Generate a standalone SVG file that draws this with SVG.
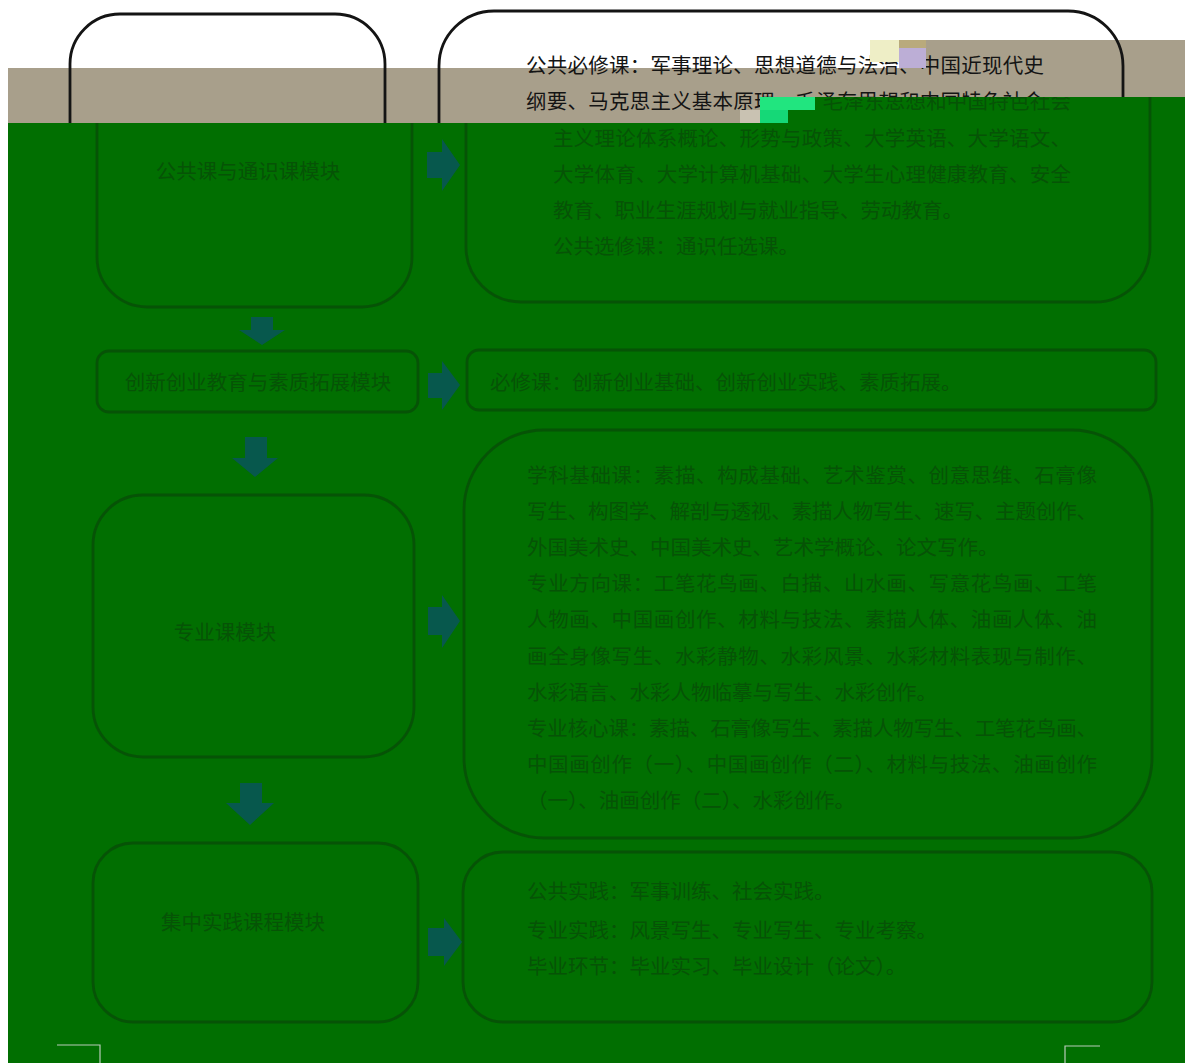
<svg xmlns="http://www.w3.org/2000/svg" width="1185" height="1063" viewBox="0 0 1185 1063">
<style>
.box{fill:none;stroke:currentColor;stroke-width:2.8}
.t{font-family:"Noto Sans CJK SC","Noto Sans CJK JP",sans-serif;font-size:20.5px;fill:currentColor}
.lbl{text-anchor:middle}
.arr{fill:#07584d}
.ghost{color:#141414}
.ongreen{color:#065306}
.mark{fill:none;stroke:#b9cbb9;stroke-width:1.2}
</style>
<defs>
<clipPath id="gclip"><path d="M8 123H760V97H1185V1063H8Z"/></clipPath>
</defs>
<rect width="1185" height="1063" fill="#ffffff"/>
<path d="M8 68H926V40H1185V123H8Z" fill="#a89f8b"/>
<use href="#diagram" class="ghost" transform="translate(-27 0)"/>
<rect x="870" y="40" width="29" height="22" fill="#eeeec6"/>
<rect x="899" y="40" width="27" height="8" fill="#b9aa7c"/>
<rect x="899" y="48" width="27" height="20" fill="#bcaed6"/>
<rect x="740" y="110" width="20" height="13" fill="#c9c2b2"/>
<path d="M8 123H760V97H1185V1063H8Z" fill="#016f01"/>
<g class="ongreen" clip-path="url(#gclip)">
<g id="diagram">
<g id="node-public">
<rect class="box" x="97" y="14" width="315" height="293" rx="50"/>
<text class="t lbl" x="248" y="179">公共课与通识课模块</text>
</g>
<g id="node-public-detail">
<rect class="box" x="466" y="11" width="684" height="291" rx="55"/>
<text class="t" x="553" y="73" textLength="518" lengthAdjust="spacing">公共必修课：军事理论、思想道德与法治、中国近现代史</text>
<text class="t" x="553" y="109" textLength="518" lengthAdjust="spacing">纲要、马克思主义基本原理、毛泽东思想和中国特色社会</text>
<text class="t" x="553" y="145.5" textLength="518" lengthAdjust="spacing">主义理论体系概论、形势与政策、大学英语、大学语文、</text>
<text class="t" x="553" y="182" textLength="518" lengthAdjust="spacing">大学体育、大学计算机基础、大学生心理健康教育、安全</text>
<text class="t" x="553" y="218">教育、职业生涯规划与就业指导、劳动教育。</text>
<text class="t" x="553" y="254">公共选修课：通识任选课。</text>
</g>
<g id="node-innov">
<rect class="box" x="97" y="351" width="321" height="61" rx="12"/>
<text class="t lbl" x="258" y="390">创新创业教育与素质拓展模块</text>
</g>
<g id="node-innov-detail">
<rect class="box" x="467" y="350" width="689" height="60" rx="12"/>
<text class="t" x="490" y="390">必修课：创新创业基础、创新创业实践、素质拓展。</text>
</g>
<g id="node-major">
<rect class="box" x="93" y="495" width="321" height="262" rx="50"/>
<text class="t lbl" x="225" y="640">专业课模块</text>
</g>
<g id="node-major-detail">
<rect class="box" x="464" y="430" width="688" height="408" rx="80"/>
<text class="t" x="527" y="483" textLength="570" lengthAdjust="spacing">学科基础课：素描、构成基础、艺术鉴赏、创意思维、石膏像</text>
<text class="t" x="527" y="519" textLength="570" lengthAdjust="spacing">写生、构图学、解剖与透视、素描人物写生、速写、主题创作、</text>
<text class="t" x="527" y="555">外国美术史、中国美术史、艺术学概论、论文写作。</text>
<text class="t" x="527" y="591" textLength="570" lengthAdjust="spacing">专业方向课：工笔花鸟画、白描、山水画、写意花鸟画、工笔</text>
<text class="t" x="527" y="627" textLength="570" lengthAdjust="spacing">人物画、中国画创作、材料与技法、素描人体、油画人体、油</text>
<text class="t" x="527" y="664" textLength="570" lengthAdjust="spacing">画全身像写生、水彩静物、水彩风景、水彩材料表现与制作、</text>
<text class="t" x="527" y="700">水彩语言、水彩人物临摹与写生、水彩创作。</text>
<text class="t" x="527" y="736" textLength="570" lengthAdjust="spacing">专业核心课：素描、石膏像写生、素描人物写生、工笔花鸟画、</text>
<text class="t" x="527" y="772" textLength="570" lengthAdjust="spacing">中国画创作（一）、中国画创作（二）、材料与技法、油画创作</text>
<text class="t" x="527" y="808">（一）、油画创作（二）、水彩创作。</text>
</g>
<g id="node-practice">
<rect class="box" x="93" y="843" width="325" height="179" rx="40"/>
<text class="t lbl" x="243" y="930">集中实践课程模块</text>
</g>
<g id="node-practice-detail">
<rect class="box" x="463" y="852" width="689" height="170" rx="40"/>
<text class="t" x="527" y="899">公共实践：军事训练、社会实践。</text>
<text class="t" x="527" y="938">专业实践：风景写生、专业写生、专业考察。</text>
<text class="t" x="527" y="974">毕业环节：毕业实习、毕业设计（论文）。</text>
</g>
<g id="connectors">
<polygon class="arr" points="251,317 273,317 273,330 285,330 262,345 239,330 251,330"/>
<polygon class="arr" points="245,437 267,437 267,458 278,458 255,477 232,458 245,458"/>
<polygon class="arr" points="240,783 262,783 262,803 274,803 250,825 226,803 240,803"/>
<polygon class="arr" points="427,152 442,152 442,139 460,165 442,191 442,178 427,178"/>
<polygon class="arr" points="428,373 442,373 442,361 460,385 442,410 442,398 428,398"/>
<polygon class="arr" points="428,607 442,607 442,595 460,621 442,648 442,635 428,635"/>
<polygon class="arr" points="428,928 444,928 444,918 462,942 444,966 444,956 428,956"/>
</g>
</g>
</g>
<rect x="760" y="97" width="55" height="13" fill="#21e57f"/>
<rect x="760" y="110" width="28" height="13" fill="#15d877"/>
<path class="mark" d="M57 1045H100V1063"/>
<path class="mark" d="M1100 1046H1065V1063"/>
</svg>
